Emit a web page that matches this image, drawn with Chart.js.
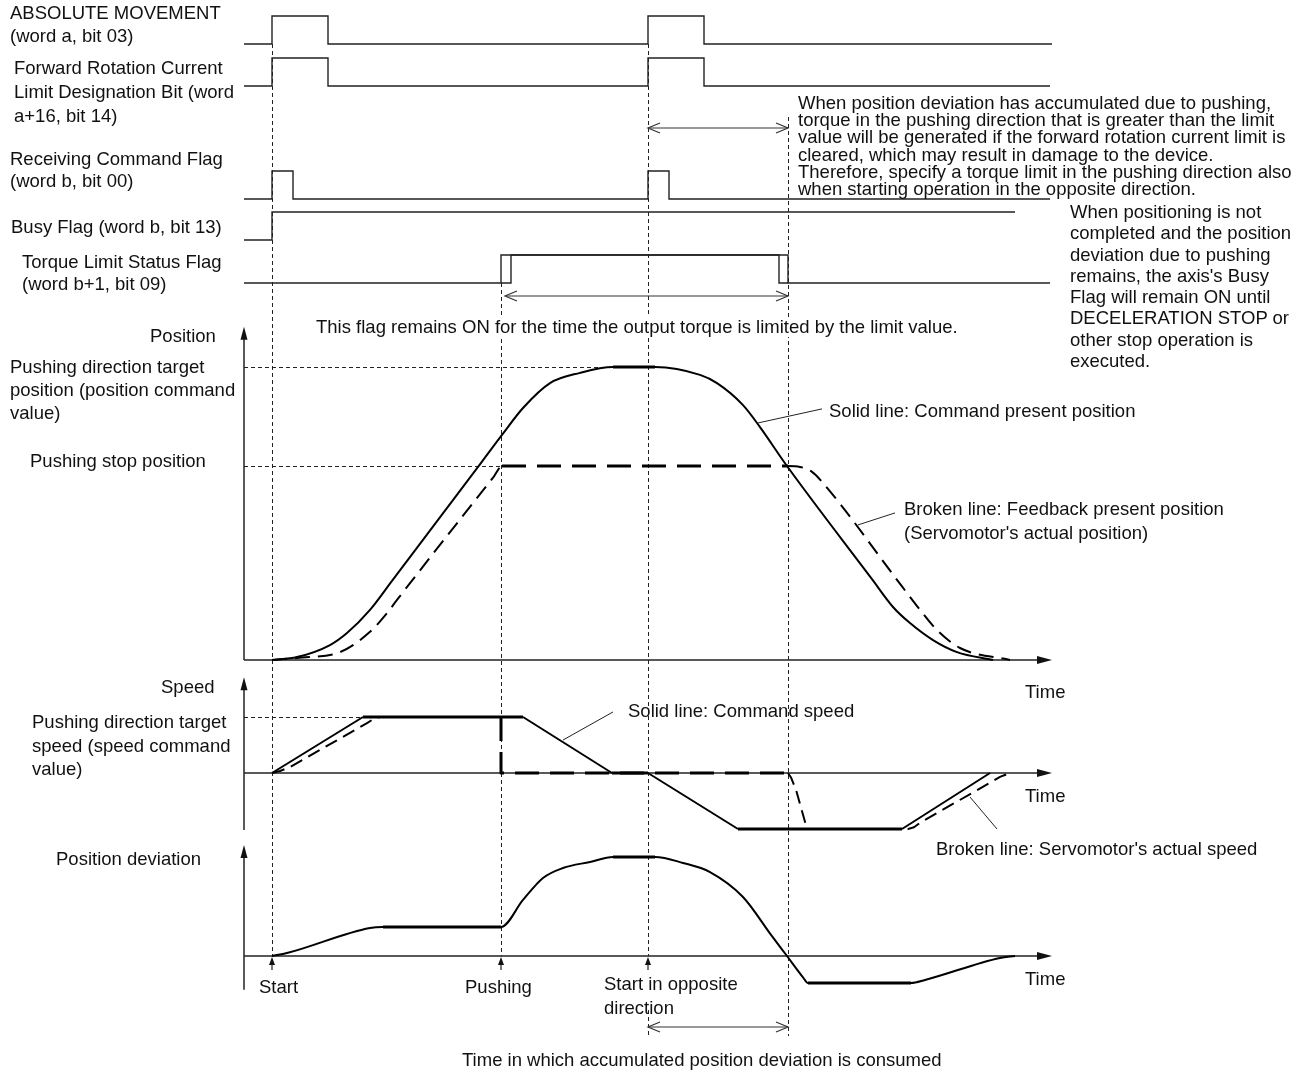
<!DOCTYPE html>
<html>
<head>
<meta charset="utf-8">
<script src="https://cdn.jsdelivr.net/npm/chart.js@4.4.0/dist/chart.umd.min.js"></script>
<style>
    body { margin: 0; background: #fff; }
    #wrap { position: relative; width: 1308px; height: 1072px; overflow: hidden; }
    #wrap canvas { position: absolute; left: 0; top: 0; }
    .t { position: absolute; font: 18.5px "Liberation Sans", Arial, Helvetica, sans-serif; color: #111; line-height: 23px; white-space: nowrap; }
</style>
</head>
<body>
<div id="wrap">
    <canvas id="timing" width="1308" height="1072"></canvas>

    <div class="t" style="left:10px;top:1px;">ABSOLUTE MOVEMENT<br>(word a, bit 03)</div>
    <div class="t" style="left:14px;top:56px;line-height:24px;">Forward Rotation Current<br>Limit Designation Bit (word<br>a+16, bit 14)</div>
    <div class="t" style="left:10px;top:148px;line-height:22px;">Receiving Command Flag<br>(word b, bit 00)</div>
    <div class="t" style="left:11px;top:215px;">Busy Flag (word b, bit 13)</div>
    <div class="t" style="left:22px;top:251px;line-height:22px;">Torque Limit Status Flag<br>(word b+1, bit 09)</div>
    <div class="t" style="left:316px;top:317px;line-height:20px;background:#fff;">This flag remains ON for the time the output torque is limited by the limit value.</div>

    <div class="t" style="left:798px;top:94px;line-height:17.2px;">When position deviation has accumulated due to pushing,<br>torque in the pushing direction that is greater than the limit<br>value will be generated if the forward rotation current limit is<br>cleared, which may result in damage to the device.<br>Therefore, specify a torque limit in the pushing direction also<br>when starting operation in the opposite direction.</div>
    <div class="t" style="left:1070px;top:201px;line-height:21.3px;">When positioning is not<br>completed and the position<br>deviation due to pushing<br>remains, the axis's Busy<br>Flag will remain ON until<br>DECELERATION STOP or<br>other stop operation is<br>executed.</div>

    <div class="t" style="left:150px;top:324px;">Position</div>
    <div class="t" style="left:10px;top:355px;">Pushing direction target<br>position (position command<br>value)</div>
    <div class="t" style="left:30px;top:449px;">Pushing stop position</div>
    <div class="t" style="left:829px;top:399px;">Solid line: Command present position</div>
    <div class="t" style="left:904px;top:497px;line-height:24px;">Broken line: Feedback present position<br>(Servomotor's actual position)</div>
    <div class="t" style="left:1025px;top:680px;">Time</div>

    <div class="t" style="left:161px;top:675px;">Speed</div>
    <div class="t" style="left:32px;top:710px;line-height:23.5px;">Pushing direction target<br>speed (speed command<br>value)</div>
    <div class="t" style="left:628px;top:699px;">Solid line: Command speed</div>
    <div class="t" style="left:1025px;top:784px;">Time</div>
    <div class="t" style="left:936px;top:837px;">Broken line: Servomotor's actual speed</div>

    <div class="t" style="left:56px;top:847px;">Position deviation</div>
    <div class="t" style="left:1025px;top:967px;">Time</div>
    <div class="t" style="left:259px;top:975px;">Start</div>
    <div class="t" style="left:465px;top:975px;">Pushing</div>
    <div class="t" style="left:604px;top:972px;line-height:24px;">Start in opposite<br>direction</div>
    <div class="t" style="left:462px;top:1048px;">Time in which accumulated position deviation is consumed</div>
</div>

<script>
// Time axis: ms after Start
const T_MIN = -28;
const T_MAX = 780;
const T_START = 0;
const T_PUSH = 229;
const T_OPP = 376;
const T_END = 516;

// Digital signals: edge times and the level reached at each edge
const absMoveT = [T_MIN, 0, 56, 376, 432, 780];
const absMoveV = [0, 1, 0, 1, 0, 0];
const fwdLimitT = [T_MIN, 0, 56, 376, 432, 778];
const fwdLimitV = [0, 1, 0, 1, 0, 0];
const recvCmdT = [T_MIN, 0, 21, 376, 397, 778];
const recvCmdV = [0, 1, 0, 1, 0, 0];
const busyT = [T_MIN, 0, 743];
const busyV = [0, 1, 1];
const torqueT = [T_MIN, 229, 516, 778];
const torqueV = [0, 1, 0, 0];
// second (uncertain) edge of the torque limit flag
const torqueEdgeT = [229, 239, 507, 507, 516];
const torqueEdgeV = [0, 1, 1, 0, 0];

// Position (% of pushing direction target position)
const posCmdT = [0, 25, 58, 75, 98, 120, 210, 230, 251, 278, 308, 341, 383, 428, 445, 471, 488, 515, 600, 621, 638, 661, 685, 721];
const posCmdV = [0, 1, 5.1, 9.2, 17.1, 27, 67.7, 76.8, 86, 94.5, 98, 100, 100, 97.3, 94.5, 87, 79.5, 66.2, 27.6, 18.1, 12.6, 6.8, 2.7, 0];
const posFbT = [0, 25, 68, 98, 115, 125, 222, 230, 516, 528, 540, 550, 630, 648, 665, 688, 738];
const posFbV = [0, 0.7, 2.7, 9.6, 16, 20.5, 62.7, 66.2, 66.2, 65.9, 64.2, 60.8, 25.1, 17.1, 10.2, 4.1, 0];
const POS_TARGET = 100;
const POS_STOP = 66.2;

// Speed (% of pushing direction target speed)
const spdCmdT = [0, 91, 251, 340, 376, 466, 630, 718];
const spdCmdV = [0, 100, 100, 0, 0, -100, -100, 0];
const spdActT = [0, 8, 18, 95, 102, 108, 229, 229, 516, 519, 524, 535, 636, 642, 648, 728, 735, 741];
const spdActV = [0, 3.5, 10.7, 89, 97, 100, 100, 0, 0, -8, -30, -100, -100, -97, -89, -7, -2, 0];
const SPD_TARGET = 100;

// Position deviation (% of peak)
const devT = [0, 15, 98, 111, 229, 251, 271, 291, 318, 341, 383, 411, 438, 471, 500, 515, 531, 536, 639, 653, 728, 743];
const devV = [0, 3, 28.3, 29.3, 29.3, 56.6, 78.8, 88.9, 95, 100, 100, 94, 84.8, 59.6, 20, 0, -21.5, -27.3, -27.3, -24.2, -2, 0];

// ---- layout ----
const W = 1308, H = 1072;
const X_LEFT_PX = 272;          // pixel of Start
const SIG_LOW_PX = [44, 86, 199, 240, 283];
const SIG_HIGH = 28;
const INK = '#111';
const THIN = '#222';

function band(zeroPx, pxPerUnit) {
    return { type: 'linear', display: false, min: (zeroPx - H) / pxPerUnit, max: zeroPx / pxPerUnit };
}

function pts(ts, vs) {
    return ts.map((t, i) => ({ x: t, y: vs[i] }));
}

const scales = {
    x: { type: 'linear', display: false, min: -X_LEFT_PX, max: W - X_LEFT_PX },
    yPos: band(660, 2.93),
    ySpd: band(773, 0.56),
    yDev: band(956, 0.99)
};
SIG_LOW_PX.forEach((px, i) => { scales['s' + i] = band(px, SIG_HIGH); });

const signal = (ts, vs, axis) => ({
    data: pts(ts, vs), yAxisID: axis, stepped: true,
    borderColor: THIN, borderWidth: 1.4, pointRadius: 0, fill: false
});

// flat parts of command curves are drawn heavier
const solidSeg = { borderWidth: c => (c.p0.parsed.y === c.p1.parsed.y ? 3 : 2) };
// feedback held during pushing is drawn with heavy dashes
const held = c => c.p0.parsed.x >= T_PUSH && c.p1.parsed.x <= T_END;
const heldSeg = dash => ({
    borderWidth: c => (held(c) ? 3 : 2),
    borderDash: c => (held(c) ? [24, 11] : dash)
});

const curve = (ts, vs, axis, extra) => Object.assign({
    data: pts(ts, vs), yAxisID: axis, borderColor: '#000', borderWidth: 2,
    pointRadius: 0, fill: false, tension: 0, borderJoinStyle: 'round'
}, extra);

const smooth = { cubicInterpolationMode: 'monotone' };

const datasets = [
    signal(absMoveT, absMoveV, 's0'),
    signal(fwdLimitT, fwdLimitV, 's1'),
    signal(recvCmdT, recvCmdV, 's2'),
    signal(busyT, busyV, 's3'),
    signal(torqueT, torqueV, 's4'),
    signal(torqueEdgeT, torqueEdgeV, 's4'),
    curve(posFbT, posFbV, 'yPos', { ...smooth, borderDash: [15, 8], segment: heldSeg([15, 8]) }),
    curve(posCmdT, posCmdV, 'yPos', { ...smooth, segment: solidSeg }),
    curve(spdActT, spdActV, 'ySpd', { borderDash: [13, 7], segment: heldSeg([13, 7]) }),
    curve(spdCmdT, spdCmdV, 'ySpd', { segment: solidSeg }),
    curve(devT, devV, 'yDev', { ...smooth, segment: solidSeg })
];

// ---- decorations: axes, guides, brackets, leaders ----
const PANELS = [
    { axis: 'yPos', bottom: 0, top: 113.7 },
    { axis: 'ySpd', bottom: -102, top: 171 },
    { axis: 'yDev', bottom: -34, top: 112 }
];
const GUIDES = [
    { t: T_START, from: 44, to: 956 },
    { t: T_PUSH, from: 283, to: 956 },
    { t: T_OPP, from: 44, to: 956 },
    { t: T_OPP, from: 1010, to: 1036 },
    { t: T_END, from: 117, to: 1036 }
];
const REFS = [
    { axis: 'yPos', v: POS_TARGET, t: 341 },
    { axis: 'yPos', v: POS_STOP, t: 230 },
    { axis: 'ySpd', v: SPD_TARGET, t: 91 }
];
const BRACKETS = [
    { t0: T_OPP, t1: T_END, y: 128 },
    { t0: T_PUSH + 4, t1: T_END, y: 296 },
    { t0: T_OPP, t1: T_END, y: 1027 }
];
const MARKERS = [T_START, T_PUSH, T_OPP];
const LEADERS = [
    { axis: 'yPos', t0: 550, v0: 85.7, t1: 486, v1: 80.9 },
    { axis: 'yPos', t0: 623, v0: 50.2, t1: 586, v1: 46.1 },
    { axis: 'ySpd', t0: 341, v0: 109, t1: 291, v1: 58.9 },
    { axis: 'ySpd', t0: 725, v0: -100, t1: 698, v1: -42.9 }
];

function seg(ctx, x0, y0, x1, y1) {
    ctx.beginPath();
    ctx.moveTo(x0, y0);
    ctx.lineTo(x1, y1);
    ctx.stroke();
}

const decor = {
    id: 'decor',
    beforeDatasetsDraw(chart) {
        const { ctx } = chart;
        const sx = chart.scales.x;
        const xl = sx.getPixelForValue(T_MIN);
        const xr = sx.getPixelForValue(T_MAX);
        ctx.save();

        // dashed event guides
        ctx.strokeStyle = THIN;
        ctx.lineWidth = 1;
        ctx.setLineDash([4, 3]);
        GUIDES.forEach(g => {
            const px = Math.round(sx.getPixelForValue(g.t)) + 0.5;
            seg(ctx, px, g.from, px, g.to);
        });
        REFS.forEach(r => {
            const py = Math.round(chart.scales[r.axis].getPixelForValue(r.v)) + 0.5;
            seg(ctx, xl, py, sx.getPixelForValue(r.t), py);
        });
        ctx.setLineDash([]);

        // panel axes with filled arrow heads
        ctx.strokeStyle = '#222';
        ctx.fillStyle = INK;
        ctx.lineWidth = 1.5;
        PANELS.forEach(p => {
            const sy = chart.scales[p.axis];
            const y0 = sy.getPixelForValue(0);
            const yb = sy.getPixelForValue(p.bottom);
            const yt = sy.getPixelForValue(p.top);
            seg(ctx, xl, yb, xl, yt + 10);
            ctx.beginPath();
            ctx.moveTo(xl, yt);
            ctx.lineTo(xl - 3.5, yt + 13);
            ctx.lineTo(xl + 3.5, yt + 13);
            ctx.closePath();
            ctx.fill();
            seg(ctx, xl, y0, xr - 12, y0);
            ctx.beginPath();
            ctx.moveTo(xr, y0);
            ctx.lineTo(xr - 15, y0 - 4);
            ctx.lineTo(xr - 15, y0 + 4);
            ctx.closePath();
            ctx.fill();
        });

        // event markers under the deviation axis
        ctx.lineWidth = 1.2;
        MARKERS.forEach(t => {
            const px = sx.getPixelForValue(t);
            seg(ctx, px, 970, px, 962);
            ctx.beginPath();
            ctx.moveTo(px, 957);
            ctx.lineTo(px - 3, 965);
            ctx.lineTo(px + 3, 965);
            ctx.closePath();
            ctx.fill();
        });

        // double-headed brackets
        ctx.strokeStyle = '#333';
        ctx.lineWidth = 1.2;
        BRACKETS.forEach(b => {
            const a = sx.getPixelForValue(b.t0), c = sx.getPixelForValue(b.t1);
            seg(ctx, a, b.y, c, b.y);
            ctx.beginPath();
            ctx.moveTo(a + 12, b.y - 5); ctx.lineTo(a, b.y); ctx.lineTo(a + 12, b.y + 5);
            ctx.moveTo(c - 12, b.y - 5); ctx.lineTo(c, b.y); ctx.lineTo(c - 12, b.y + 5);
            ctx.stroke();
        });
        ctx.restore();
    },
    afterDatasetsDraw(chart) {
        const { ctx } = chart;
        const sx = chart.scales.x;
        ctx.save();
        ctx.strokeStyle = '#222';
        ctx.lineWidth = 1;
        LEADERS.forEach(l => {
            const sy = chart.scales[l.axis];
            seg(ctx, sx.getPixelForValue(l.t0), sy.getPixelForValue(l.v0),
                sx.getPixelForValue(l.t1), sy.getPixelForValue(l.v1));
        });
        ctx.restore();
    }
};

new Chart(document.getElementById('timing'), {
    type: 'line',
    data: { datasets },
    options: {
        responsive: false,
        animation: false,
        parsing: false,
        normalized: true,
        layout: { padding: 0 },
        events: [],
        scales,
        plugins: { legend: { display: false }, tooltip: { enabled: false } }
    },
    plugins: [decor]
});
</script>
</body>
</html>
